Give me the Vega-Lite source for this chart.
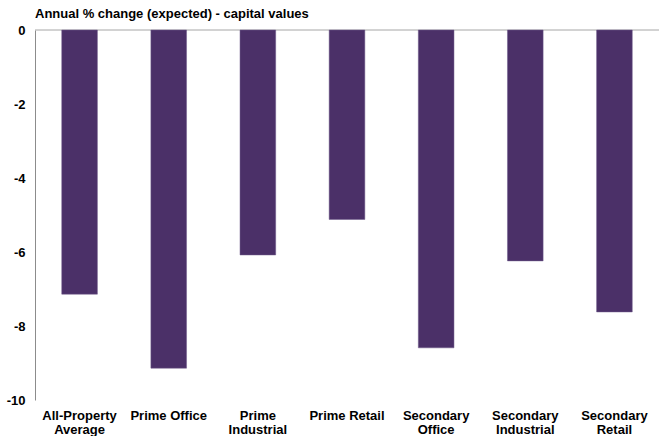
{
  "$schema": "https://vega.github.io/schema/vega-lite/v6.json",
  "autosize": {"type": "none"},
  "width": 624,
  "height": 370,
  "padding": {"left": 35, "top": 30, "right": 0, "bottom": 36},
  "background": "white",
  "title": {
    "text": "Annual % change (expected) - capital values",
    "anchor": "start",
    "frame": "group",
    "font": "Liberation Sans",
    "fontSize": 13,
    "fontWeight": "bold",
    "color": "#000000",
    "offset": 3
  },
  "layer": [
    {
      "data": {"values": [{"zero": 0}]},
      "mark": {"type": "rule", "color": "#A6A6A6", "strokeWidth": 1},
      "encoding": {"y": {"field": "zero", "type": "quantitative"}}
    },
    {
      "data": {
        "values": [
          {"category": "All-Property Average", "value": -7.14},
          {"category": "Prime Office", "value": -9.14},
          {"category": "Prime Industrial", "value": -6.08},
          {"category": "Prime Retail", "value": -5.12},
          {"category": "Secondary Office", "value": -8.59},
          {"category": "Secondary Industrial", "value": -6.24},
          {"category": "Secondary Retail", "value": -7.62}
        ]
      },
      "mark": {"type": "bar", "color": "#4B3068", "stroke": "#6E5A8A", "strokeWidth": 0.5},
      "encoding": {
        "x": {
          "field": "category",
          "type": "nominal",
          "sort": null,
          "scale": {"paddingInner": 0.6, "paddingOuter": 0.3},
          "axis": {
            "title": null,
            "orient": "bottom",
            "domain": false,
            "ticks": false,
            "labelAngle": 0,
            "labelFont": "Liberation Sans",
            "labelFontSize": 13,
            "labelFontWeight": "bold",
            "labelColor": "#000000",
            "labelPadding": 9,
            "labelLineHeight": 14,
            "labelLimit": 200,
            "labelExpr": "datum.label == 'Prime Office' || datum.label == 'Prime Retail' ? datum.label : split(datum.label, ' ')"
          }
        },
        "y": {
          "field": "value",
          "type": "quantitative",
          "scale": {"domain": [-10, 0], "nice": false},
          "axis": {
            "title": null,
            "values": [0, -2, -4, -6, -8, -10],
            "grid": false,
            "ticks": false,
            "domain": true,
            "domainColor": "#8C8C8C",
            "domainWidth": 1,
            "labelFont": "Liberation Sans",
            "labelFontSize": 13,
            "labelFontWeight": "bold",
            "labelColor": "#000000",
            "labelPadding": 10,
            "labelExpr": "datum.value == 0 ? '0' : '-' + abs(datum.value)"
          }
        }
      }
    }
  ],
  "config": {"view": {"stroke": null}}
}
